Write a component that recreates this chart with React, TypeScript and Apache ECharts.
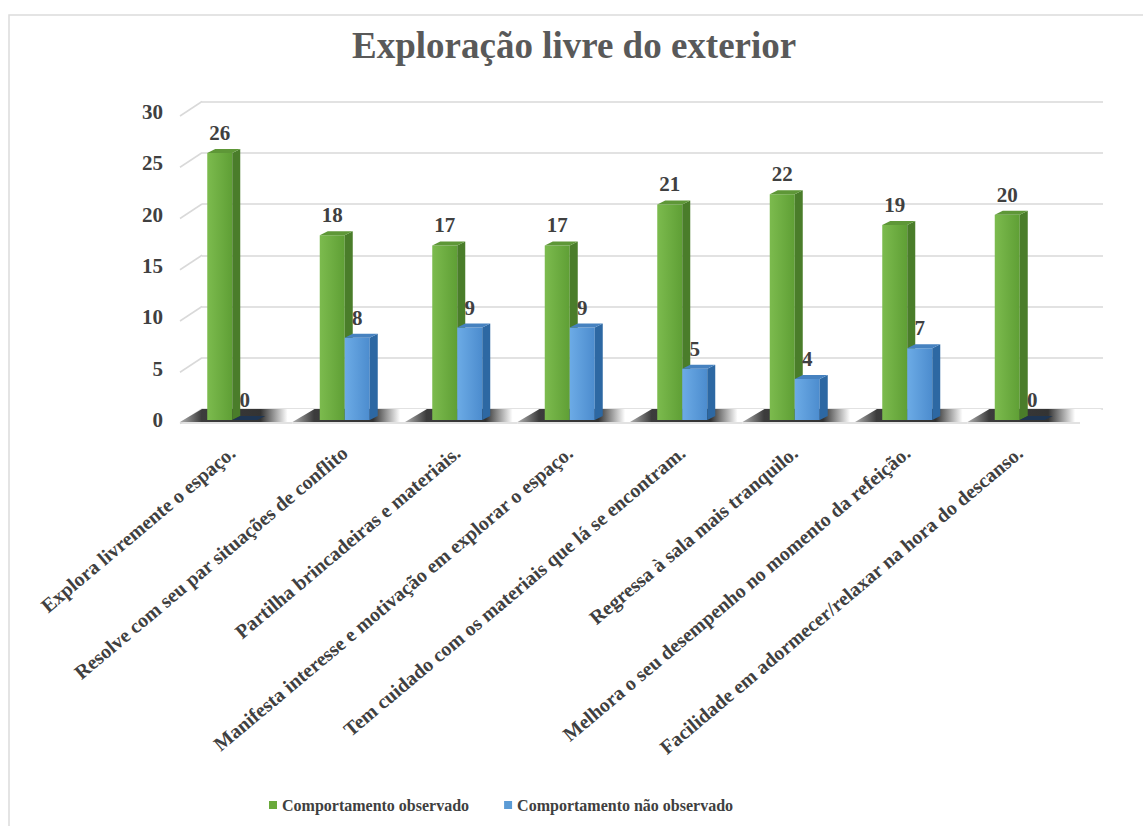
import React, { useEffect, useRef } from "react";
import * as echarts from "echarts";

const categories = [
  "Explora livremente o espaço.",
  "Resolve com seu par situações de conflito",
  "Partilha brincadeiras e materiais.",
  "Manifesta interesse e motivação em explorar o espaço.",
  "Tem cuidado com os materiais que lá se encontram.",
  "Regressa à sala mais tranquilo.",
  "Melhora o seu desempenho no momento da refeição.",
  "Facilidade em adormecer/relaxar na hora do descanso.",
];
const observed = [26, 18, 17, 17, 21, 22, 19, 20];
const notObserved = [0, 8, 9, 9, 5, 4, 7, 0];
const yTicks = [0, 5, 10, 15, 20, 25, 30];
const seriesNames = ["Comportamento observado", "Comportamento não observado"];
const titleText = "Exploração livre do exterior";

const FONT = "'Liberation Serif', 'Times New Roman', serif";
const BAR_W = 25;
const DX = 8;
const DY = 4;

const palettes = [
  { front: ["#7cbb4e", "#5f9f35"], side: "#4a7d2a", top: "#5e9737", zeroTop: "#3d6622", legend: "#6aaa3b" },
  { front: ["#6cabe6", "#4c8cce"], side: "#2d68a3", top: "#4682c0", zeroTop: "#1e3552", legend: "#5b9bd5" },
];

function makeBarRender(seriesIdx: number) {
  const pal = palettes[seriesIdx];
  const off = seriesIdx === 0 ? -BAR_W : 0;
  return (params: any, api: any) => {
    const i = api.value(0);
    const v = api.value(1);
    const base = api.coord([i, 0]);
    const top = api.coord([i, v]);
    const xl = base[0] + off;
    const xr = xl + BAR_W;
    const yb = base[1];
    const yt = top[1];
    const children: any[] = [];
    if (yb - yt > 0.5) {
      children.push({
        type: "rect",
        shape: { x: xl, y: yt, width: BAR_W, height: yb - yt },
        style: {
          fill: new echarts.graphic.LinearGradient(0, 0, 1, 0, [
            { offset: 0, color: pal.front[0] },
            { offset: 1, color: pal.front[1] },
          ]),
        },
      });
      children.push({
        type: "polygon",
        shape: { points: [[xr, yt], [xr + DX, yt - DY], [xr + DX, yb - DY], [xr, yb]] },
        style: { fill: pal.side },
      });
    }
    children.push({
      type: "polygon",
      shape: { points: [[xl, yt], [xl + DX, yt - DY], [xr + DX, yt - DY], [xr, yt]] },
      style: { fill: v === 0 ? pal.zeroTop : pal.top },
    });
    children.push({
      type: "text",
      style: {
        text: String(v),
        x: xl + BAR_W / 2,
        y: yt - 20,
        align: "center",
        verticalAlign: "middle",
        fontFamily: FONT,
        fontWeight: "bold",
        fontSize: 21,
        fill: "#404040",
      },
    });
    return { type: "group", children };
  };
}

function floorRender(params: any, api: any) {
  const i = api.value(0);
  const p = api.coord([i, 0]);
  const bw = api.size([1, 0])[0];
  const c = p[0] + 4;
  const x0 = c - bw / 2;
  const x1 = c + bw / 2;
  const yf = p[1] + 2;
  const yk = yf - 13;
  return {
    type: "group",
    children: [
      {
        type: "polygon",
        shape: { points: [[x0, yf], [x1, yf], [x1 + 22, yk], [x0 + 22, yk]] },
        style: {
          fill: new echarts.graphic.LinearGradient(0, 0, 1, 0, [
            { offset: 0, color: "#b0b0b0" },
            { offset: 0.16, color: "#3c3c3c" },
            { offset: 0.6, color: "#333333" },
            { offset: 0.8, color: "#ffffff" },
            { offset: 1, color: "#ffffff" },
          ]),
        },
      },
      {
        type: "line",
        shape: { x1: x0, y1: yf + 1, x2: x1, y2: yf + 1 },
        style: { stroke: "#d9d9d9", lineWidth: 1.5 },
      },
    ],
  };
}

function connectorRender(params: any, api: any) {
  const v = api.value(0);
  const p = api.coord([0, v]);
  return {
    type: "line",
    shape: { x1: p[0] - 22, y1: p[1] + 14.5, x2: p[0], y2: p[1] },
    style: { stroke: "#d9d9d9", lineWidth: 1.5 },
  };
}

export default function App() {
  const ref = useRef<HTMLDivElement>(null);
  useEffect(() => {
    if (!ref.current) return;
    const chart = echarts.init(ref.current, null, { renderer: "svg" });
    chart.setOption({
      animation: false,
      backgroundColor: "#ffffff",
      title: {
        text: titleText,
        left: 347,
        top: 22,
        textStyle: { fontFamily: FONT, fontWeight: "bold", fontSize: 37, color: "#595959" },
      },
      legend: {
        data: seriesNames,
        left: 264,
        top: 792,
        icon: "rect",
        itemWidth: 8,
        itemHeight: 8,
        itemGap: 35,
        textStyle: { fontFamily: FONT, fontWeight: "bold", fontSize: 16, color: "#404040" },
      },
      graphic: [
        {
          type: "rect",
          shape: { x: 9, y: 15, width: 1300, height: 1000 },
          style: { fill: "none", stroke: "#dcdcdc", lineWidth: 1.5 },
          z: -10,
        },
      ],
      grid: [
        { left: 176, right: 67, top: 112, bottom: 406 },
        { left: 202, right: 40, top: 101.5, bottom: 417 },
      ],
      xAxis: [
        {
          type: "category",
          gridIndex: 0,
          data: categories,
          axisLine: { show: false },
          axisTick: { show: false },
          axisLabel: {
            interval: 0,
            rotate: 40,
            margin: 30,
            fontFamily: FONT,
            fontWeight: "bold",
            fontSize: 20,
            color: "#404040",
          },
        },
        { type: "value", gridIndex: 1, min: 0, max: 1, show: false },
      ],
      yAxis: [
        {
          type: "value",
          gridIndex: 0,
          min: 0,
          max: 30,
          interval: 5,
          splitLine: { show: false },
          axisLine: { show: false },
          axisTick: { show: false },
          axisLabel: {
            margin: 13,
            padding: [8, 0, 0, 0],
            fontFamily: FONT,
            fontWeight: "bold",
            fontSize: 21,
            color: "#404040",
          },
        },
        {
          type: "value",
          gridIndex: 1,
          min: 0,
          max: 30,
          interval: 5,
          axisLabel: { show: false },
          axisLine: { show: false },
          axisTick: { show: false },
          splitLine: { lineStyle: { color: "#d9d9d9", width: 1.5 } },
        },
      ],
      series: [
        {
          type: "custom",
          name: "connectors",
          xAxisIndex: 1,
          yAxisIndex: 1,
          silent: true,
          data: yTicks.map((t) => [t]),
          encode: { y: 0 },
          renderItem: connectorRender,
          z: 1,
        },
        {
          type: "custom",
          name: "floor",
          xAxisIndex: 0,
          yAxisIndex: 0,
          silent: true,
          data: categories.map((_, i) => [i, 0]),
          encode: { x: 0, y: 1 },
          renderItem: floorRender,
          z: 2,
        },
        {
          type: "custom",
          name: seriesNames[0],
          xAxisIndex: 0,
          yAxisIndex: 0,
          itemStyle: { color: palettes[0].legend },
          data: observed.map((v, i) => [i, v]),
          encode: { x: 0, y: 1 },
          renderItem: makeBarRender(0),
          z: 3,
        },
        {
          type: "custom",
          name: seriesNames[1],
          xAxisIndex: 0,
          yAxisIndex: 0,
          itemStyle: { color: palettes[1].legend },
          data: notObserved.map((v, i) => [i, v]),
          encode: { x: 0, y: 1 },
          renderItem: makeBarRender(1),
          z: 4,
        },
      ],
    });
    return () => chart.dispose();
  }, []);
  return (
    <div
      ref={ref}
      style={{ position: "fixed", left: 0, top: 0, width: 1143, height: 826 }}
    />
  );
}
